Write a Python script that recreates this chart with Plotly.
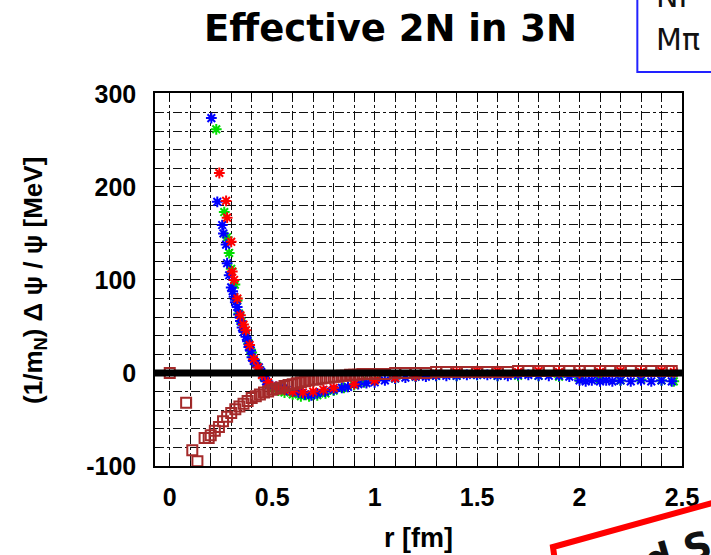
import plotly.graph_objects as go

# ---- data ----
blue_r = [0.203,0.232,0.256,0.262,0.275,0.280,0.290,0.300,0.307,0.314,0.320,0.329,0.336,0.345,0.353,0.362,0.372,0.380,0.386,0.395,
          0.401,0.410,0.420,0.435,0.447,0.459,0.470,0.483,0.50,0.52,0.546,0.57,0.60,0.628,0.66,0.691,0.72,0.758,0.80,0.84,
          0.87,0.92,0.96,1.0,1.05,1.1,1.15,1.2,1.25,1.3,1.35,1.4,1.45,1.5,1.55,1.6,1.65,1.7,1.75,1.8,
          1.85,1.9,1.95,2.0,2.03,2.06,2.1,2.13,2.16,2.2,2.25,2.3,2.35,2.4,2.45]
blue_v = [274,184,159,150,138,118,105,92,88,82,76,71,63,56,49,44,39,34,28,24,
          17,13,10,6,1,-4,-9,-13,-14,-15,-15,-18,-20,-21,-23,-24,-22,-20,-18,-16,
          -15,-12,-11,-10,-8,-6,-5,-4,-4,-3,-3,-3,-2,-2,-2,-3,-3,-2,-2,-3,
          -3,-3,-4,-8,-9,-8,-9,-8,-9,-8,-9,-8,-9,-8,-9]

green_r = [0.227,0.266,0.280,0.290,0.300,0.318,0.329,0.338,0.350,0.365,0.38,0.40,0.42,0.44,0.46,0.48,0.50,0.53,0.56,0.60,
           0.64,0.68,0.72,0.76,0.80,0.85,0.90,0.95,1.0,1.1,1.2,1.3,1.4,1.5,1.6,1.7,1.8,1.9,2.0,2.1,
           2.2,2.3,2.4,2.46]
green_v = [262,173,146,129,112,95,78,64,55,45,35,22,11,3,-5,-12,-17,-19,-21,-23,
           -25,-25,-24,-22,-19,-16,-13,-10,-8,-6,-4,-3,-3,-2,-3,-3,-3,-4,-6,-7,
           -8,-7,-8,-9]

red_r = [0.242,0.275,0.28,0.300,0.305,0.314,0.33,0.345,0.36,0.372,0.39,0.41,0.43,0.45,0.48,0.52,0.56,0.6,0.65,0.7,
         0.75,0.8,0.9,1.0,1.1,1.2,1.3,1.4,1.5,1.6,1.7,1.8,1.9,2.0,2.1,2.2,2.3,2.4,2.46]
red_v = [215,185,167,141,109,100,80,62,52,46,30,15,6,-2,-10,-15,-18,-20,-21,-20,
         -18,-16,-12,-8,-5,-3,-1,1,2,2,1,2,1,0,1,2,1,2,1]

brown_r = [0.0,0.08,0.11,0.135,0.17,0.19,
           0.20,0.22,0.24,0.26,0.28,0.30,0.32,0.34,0.36,0.38,
           0.40,0.42,0.44,0.46,0.48,0.50,0.52,0.54,0.56,0.58,
           0.60,0.62,0.64,0.66,0.68,0.70,0.72,0.74,0.76,0.78,
           0.80,0.82,0.84,0.86,0.88,0.90,0.92,0.94,0.96,0.98,
           1.0,1.05,1.1,1.15,1.2,1.25,1.3,1.35,1.4,1.45,
           1.5,1.55,1.6,1.65,1.7,1.75,1.8,1.85,1.9,1.95,
           2.0,2.05,2.1,2.15,2.2,2.25,2.3,2.35,2.4,2.45]
brown_v = [0,-32,-83,-95,-70,-70,
           -67,-62,-58,-52,-47,-43,-39,-36,-33,-30,
           -27,-25,-23,-21,-20,-18,-17,-16,-14,-13,
           -12,-11,-10,-9,-8,-7,-7,-6,-5,-5,
           -4,-4,-3,-3,-2,-2,-2,-1,-1,-1,
           -1,-1,0,0,0,0,1,1,1,1,
           1,1,1,1,2,2,2,2,2,2,
           2,2,2,2,2,2,2,2,2,2]

x_ticks = [0, 0.5, 1, 1.5, 2, 2.5]
x_ticklabels = ["0", "0.5", "1", "1.5", "2", "2.5"]
y_ticks = [-100, 0, 100, 200, 300]
y_ticklabels = ["-100", "0", "100", "200", "300"]

L, R, T, B = 155, 686, 93, 466
PW, PH = R - L, B - T

def px(x):
    return (x - L) / PW

def py(y):
    return (B - y) / PH

fig = go.Figure()

def star_trace(r, v, color):
    return go.Scatter(x=r, y=v, mode="markers", showlegend=False,
                      marker=dict(symbol="asterisk-open", size=9, color=color,
                                  line=dict(color=color, width=2)))

fig.add_trace(star_trace(green_r, green_v, "#00dd00"))
fig.add_trace(star_trace(blue_r, blue_v, "#0000ff"))
fig.add_trace(star_trace(red_r, red_v, "#ff0000"))
fig.add_trace(go.Scatter(x=brown_r, y=brown_v, mode="markers", showlegend=False,
                         marker=dict(symbol="square-open", size=10, color="#a52a2a",
                                     line=dict(color="#a52a2a", width=2))))

# thick zero line
fig.add_shape(type="line", xref="paper", yref="y", x0=0, x1=1, y0=0, y1=0,
              line=dict(color="black", width=7), layer="above")

gridstyle = dict(gridcolor="#111111", gridwidth=1, griddash="dashdot")
tickfont = dict(family="Liberation Sans, Arial", size=25, color="black", weight="bold")

fig.update_xaxes(range=[-0.072, 2.5], tickvals=x_ticks, ticktext=x_ticklabels,
                 showgrid=True, **gridstyle, zeroline=False,
                 showline=True, linecolor="black", linewidth=1.5, mirror="ticks",
                 ticks="inside", ticklen=8, tickcolor="black",
                 minor=dict(dtick=0.1, tick0=0, showgrid=True, ticks="inside", ticklen=5,
                            tickcolor="black", **gridstyle),
                 tickfont=tickfont, ticklabelstandoff=8)
fig.update_yaxes(range=[-100, 301], tickvals=y_ticks, ticktext=y_ticklabels,
                 showgrid=True, **gridstyle, zeroline=False,
                 showline=True, linecolor="black", linewidth=1.5, mirror="ticks",
                 ticks="inside", ticklen=8, tickcolor="black",
                 minor=dict(dtick=20, tick0=0, showgrid=True, ticks="inside", ticklen=5,
                            tickcolor="black", **gridstyle),
                 tickfont=tickfont, ticklabelstandoff=12)

# axis titles
fig.add_annotation(text="r [fm]", xref="paper", yref="paper",
                   x=px(420), y=py(538), showarrow=False,
                   xanchor="center", yanchor="middle",
                   font=dict(family="Liberation Sans, Arial", size=27, color="black", weight="bold"))
fig.add_annotation(text="(1/m<sub>N</sub>) Δ ψ / ψ [MeV]", xref="paper", yref="paper",
                   x=px(33), y=py(280), showarrow=False, textangle=-90,
                   xanchor="center", yanchor="middle",
                   font=dict(family="Liberation Sans, Arial", size=26, color="black", weight="bold"))

# title
fig.add_annotation(text="<b>Effective 2N in 3N</b>", xref="paper", yref="paper",
                   x=px(392), y=py(28), showarrow=False,
                   font=dict(family="DejaVu Sans", size=37, color="black"),
                   xanchor="center", yanchor="middle")

# cropped box at top right
fig.add_shape(type="rect", xref="paper", yref="paper",
              x0=px(641), x1=px(760), y0=py(72), y1=py(-10),
              line=dict(color="#2222ff", width=2), fillcolor="rgba(0,0,0,0)")
fig.add_annotation(text="Mπ", xref="paper", yref="paper",
                   x=px(658), y=py(40), showarrow=False,
                   xanchor="left", yanchor="middle",
                   font=dict(family="DejaVu Sans", size=30, color="#111111"))
fig.add_annotation(text="NP", xref="paper", yref="paper",
                   x=px(658), y=py(-4), showarrow=False,
                   xanchor="left", yanchor="middle",
                   font=dict(family="DejaVu Sans", size=30, color="#111111"))

# cropped red stamp at bottom right
fig.add_shape(type="path", xref="paper", yref="paper",
              path="M %f,%f L %f,%f L %f,%f" % (px(560), py(575), px(556), py(547), px(720), py(502)),
              line=dict(color="#ff0000", width=6))
fig.add_annotation(text="<b>ed S</b>", xref="paper", yref="paper",
                   x=px(670), y=py(556), showarrow=False,
                   textangle=-16, xanchor="center", yanchor="middle",
                   font=dict(family="DejaVu Sans", size=38, color="#111111"))

fig.update_layout(width=711, height=555,
                  margin=dict(l=L, r=711 - R, t=T, b=555 - B),
                  paper_bgcolor="white", plot_bgcolor="white")

fig.write_html("out.html")
